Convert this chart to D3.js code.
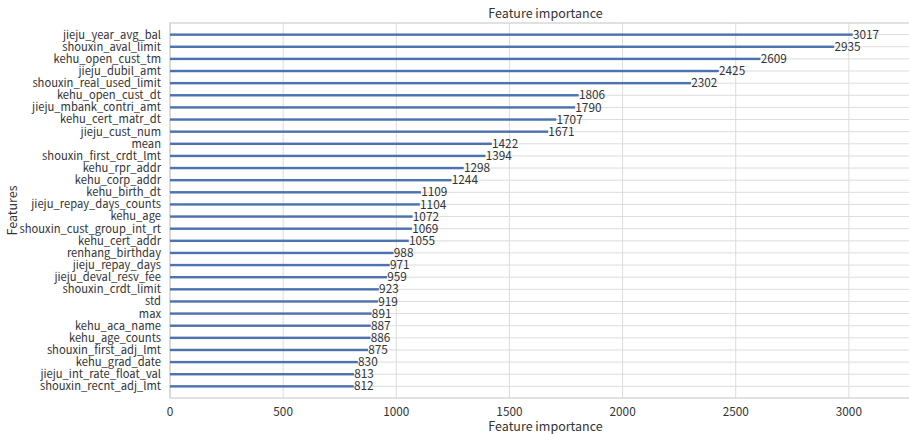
<!DOCTYPE html>
<html>
<head>
<meta charset="utf-8">
<script src="https://cdn.jsdelivr.net/npm/d3@7"></script>
<style>
  html, body { margin: 0; padding: 0; background: #fff; }
  svg { display: block; }
  text { font-family: "Noto Sans CJK SC", "Noto Sans", sans-serif; fill: #333; }
</style>
</head>
<body>
<svg id="chart" width="909" height="434"></svg>
<script>
// Feature names, most important first
const features = [
  "jieju_year_avg_bal", "shouxin_aval_limit", "kehu_open_cust_tm", "jieju_dubil_amt",
  "shouxin_real_used_limit", "kehu_open_cust_dt", "jieju_mbank_contri_amt", "kehu_cert_matr_dt",
  "jieju_cust_num", "mean", "shouxin_first_crdt_lmt", "kehu_rpr_addr", "kehu_corp_addr",
  "kehu_birth_dt", "jieju_repay_days_counts", "kehu_age", "shouxin_cust_group_int_rt",
  "kehu_cert_addr", "renhang_birthday", "jieju_repay_days", "jieju_deval_resv_fee",
  "shouxin_crdt_limit", "std", "max", "kehu_aca_name", "kehu_age_counts",
  "shouxin_first_adj_lmt", "kehu_grad_date", "jieju_int_rate_float_val", "shouxin_recnt_adj_lmt"
];
// Split counts per feature
const importance = [
  3017, 2935, 2609, 2425, 2302, 1806, 1790, 1707, 1671, 1422, 1394, 1298, 1244,
  1109, 1104, 1072, 1069, 1055, 988, 971, 959, 923, 919, 891, 887, 886, 875, 830, 813, 812
];
const xTicks = [0, 500, 1000, 1500, 2000, 2500, 3000];
const titleText = "Feature importance";
const xLabel = "Feature importance";
const yLabel = "Features";

const svg = d3.select("#chart");
const plot = { left: 170, right: 921, top: 23, bottom: 398 };
const labelSize = 11.2;

const x = d3.scaleLinear()
  .domain([0, d3.max(importance) * 1.1])
  .range([plot.left, plot.right]);

const y = d3.scaleLinear()
  .domain([-0.96, features.length - 1 + 0.96])
  .range([plot.top, plot.bottom]);

const idx = d3.range(features.length);
const barHalf = (y(0.1) - y(0));

// grid
const grid = svg.append("g");
grid.selectAll("line.v").data(xTicks).join("line")
  .attr("x1", d => x(d)).attr("x2", d => x(d))
  .attr("y1", plot.top).attr("y2", plot.bottom)
  .attr("stroke", "#dcdcdc").attr("stroke-width", 1);
grid.selectAll("line.h").data(idx).join("line")
  .attr("x1", plot.left).attr("x2", plot.right)
  .attr("y1", d => y(d)).attr("y2", d => y(d))
  .attr("stroke", "#dcdcdc").attr("stroke-width", 1);

// frame
svg.append("rect")
  .attr("x", plot.left).attr("y", plot.top)
  .attr("width", plot.right - plot.left).attr("height", plot.bottom - plot.top)
  .attr("fill", "none").attr("stroke", "#d0d0d0").attr("stroke-width", 1.25);

// bars
svg.append("g").selectAll("rect").data(idx).join("rect")
  .attr("x", x(0))
  .attr("y", i => y(i) - barHalf)
  .attr("width", i => x(importance[i]) - x(0))
  .attr("height", barHalf * 2)
  .attr("fill", "#4c72b0");

// value labels
svg.append("g").selectAll("text").data(idx).join("text")
  .attr("x", i => x(importance[i] + 1))
  .attr("y", i => y(i))
  .attr("dy", "0.35em")
  .attr("font-size", 11.8)
  .text(i => importance[i]);

// y tick labels
svg.append("g").selectAll("text").data(idx).join("text")
  .attr("x", plot.left - 9)
  .attr("y", i => y(i))
  .attr("dy", "0.35em")
  .attr("text-anchor", "end")
  .attr("font-size", labelSize)
  .text(i => features[i]);

// x tick labels
svg.append("g").selectAll("text").data(xTicks).join("text")
  .attr("x", d => x(d))
  .attr("y", plot.bottom + 18)
  .attr("text-anchor", "middle")
  .attr("font-size", 11.8)
  .text(d => d);

// titles
svg.append("text")
  .attr("x", (plot.left + plot.right) / 2).attr("y", 18)
  .attr("text-anchor", "middle").attr("font-size", 12.5)
  .text(titleText);
svg.append("text")
  .attr("x", (plot.left + plot.right) / 2).attr("y", 431)
  .attr("text-anchor", "middle").attr("font-size", 12.5)
  .text(xLabel);
svg.append("text")
  .attr("transform", `translate(17,${(plot.top + plot.bottom) / 2}) rotate(-90)`)
  .attr("text-anchor", "middle").attr("font-size", 12.5)
  .text(yLabel);
</script>
</body>
</html>
